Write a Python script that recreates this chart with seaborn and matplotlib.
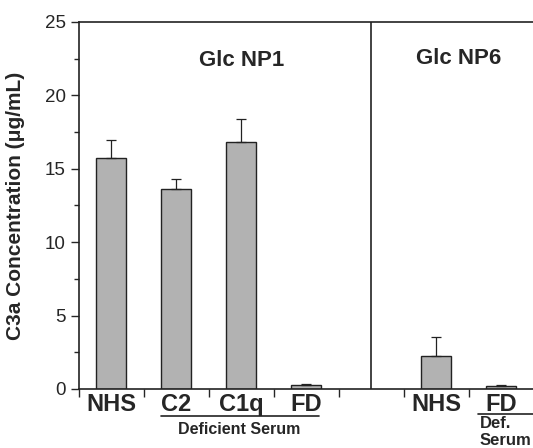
import numpy as np
import pandas as pd
import seaborn as sns
import matplotlib.pyplot as plt
from matplotlib.ticker import MultipleLocator, FixedLocator

# === datos ===
keys = ["NP1_NHS", "NP1_C2", "NP1_C1q", "NP1_FD", "gap", "NP6_NHS", "NP6_FD"]
labels = ["NHS", "C2", "C1q", "FD", "", "NHS", "FD"]
values = [15.7, 13.6, 16.8, 0.3, np.nan, 2.25, 0.2]
errors = [1.25, 0.7, 1.6, 0.05, np.nan, 1.3, 0.05]

df = pd.DataFrame({"key": keys, "value": values})

sns.set_style("ticks")
plt.rcParams["font.family"] = ["Liberation Sans", "DejaVu Sans"]

fig = plt.figure(figsize=(5.33, 4.48), dpi=100)
ax = fig.add_axes([0.148, 0.1317, 0.852, 0.8193])

sns.barplot(data=df, x="key", y="value", order=keys, color="#b2b2b2",
            edgecolor="#222222", linewidth=1.0, width=0.46, saturation=1,
            errorbar=None, ax=ax)

# barras de error (solo hacia arriba)
xs = np.arange(len(keys))
ax.errorbar(xs, values, yerr=[np.zeros(len(errors)), errors], fmt="none",
            ecolor="#222222", elinewidth=0.9, capsize=3.5, capthick=0.9)

ax.set_xlim(-0.5, 6.49)
ax.set_ylim(0, 25)
ax.yaxis.set_major_locator(MultipleLocator(5))
ax.yaxis.set_minor_locator(MultipleLocator(2.5))
ax.tick_params(axis="y", which="major", length=6, width=1, labelsize=13.5, direction="out")
ax.tick_params(axis="y", which="minor", length=3.5, width=1, direction="out")

ax.xaxis.set_major_locator(FixedLocator(np.arange(-0.5, 6.0, 1.0)))
ax.xaxis.set_minor_locator(FixedLocator(xs))
ax.set_xticklabels([])
ax.set_xticklabels(labels, minor=True, fontsize=17, fontweight="bold")
ax.tick_params(axis="x", which="major", length=6, width=1, direction="out")
ax.tick_params(axis="x", which="minor", length=0, pad=3)

for s in ["left", "bottom", "top"]:
    ax.spines[s].set_linewidth(1.2)
    ax.spines[s].set_color("#222222")
ax.spines["right"].set_visible(False)
ax.spines["top"].set_visible(True)

ax.axvline(4.0, color="#222222", lw=1.2)

ax.set_xlabel("")
ax.set_ylabel("C3a Concentration (\u03bcg/mL)", fontsize=15, fontweight="bold", labelpad=14)

ax.text(2.0, 22.4, "Glc NP1", ha="center", va="center", fontsize=16, fontweight="bold")
ax.text(5.34, 22.5, "Glc NP6", ha="center", va="center", fontsize=16, fontweight="bold")

# anotaciones de grupos debajo del eje
ax.plot([0.77, 3.2], [-1.85, -1.85], color="#222222", lw=1.2, clip_on=False)
ax.text(1.97, -2.75, "Deficient Serum", ha="center", va="center", fontsize=11.5, fontweight="bold")
ax.plot([5.65, 6.49], [-1.7, -1.7], color="#222222", lw=1.2, clip_on=False)
ax.text(5.67, -2.35, "Def.", ha="left", va="center", fontsize=12, fontweight="bold")
ax.text(5.66, -3.5, "Serum", ha="left", va="center", fontsize=12, fontweight="bold")

fig.savefig("out.png", dpi=100)
